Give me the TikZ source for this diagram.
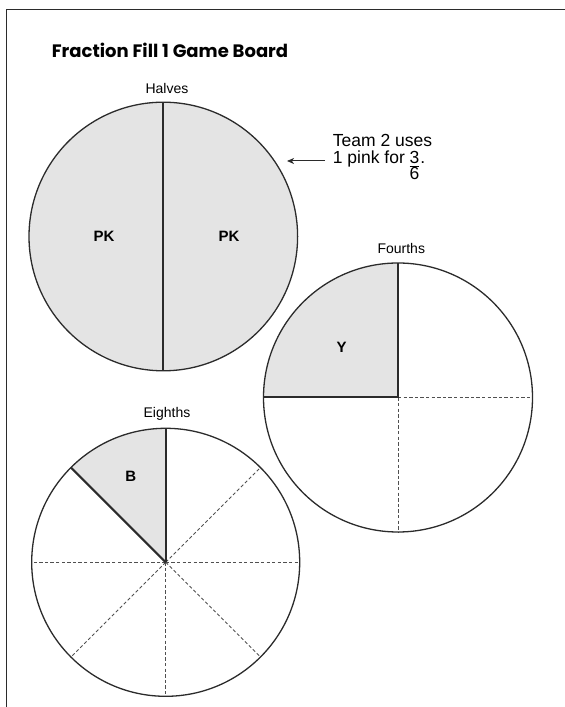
\documentclass[tikz,border=0pt]{standalone}
\usepackage{fontspec}
\setmainfont{Liberation Sans}
\newfontfamily\boardtitlefont{Poppins}[Ligatures={NoCommon}]
\usetikzlibrary{arrows.meta}
\definecolor{boardgray}{RGB}{228,228,228}
\definecolor{boardink}{RGB}{43,43,43}
\definecolor{boarddash}{RGB}{80,80,80}
\setlength{\arrayrulewidth}{0.9pt}

\begin{document}
\begin{tikzpicture}[x=1pt,y=1pt,
  every node/.style={font=\fontsize{14}{16}\selectfont,inner sep=0pt},
  boardrim/.style={boardink,line width=1.3pt},
  boardcut/.style={boardink,line width=2pt},
  boardfold/.style={boarddash,line width=0.9pt,dash pattern=on 3.3pt off 2.3pt},
  piecename/.style={font=\fontsize{15}{17}\selectfont\bfseries},
  notetext/.style={font=\fontsize{17.5}{18}\selectfont,anchor=base west},
  notearrow/.style={boardink,line width=1pt,-{Stealth[length=7pt,width=6pt,inset=2pt]}}]
\useasboundingbox (0,0) rectangle (565,707);
% page frame
\draw[boardink,line width=1.3pt] (565,697.3) -- (6.7,697.3) -- (6.7,0);
\node[anchor=base west,font=\boardtitlefont\bfseries\fontsize{18}{20}\selectfont] (title) at (51.7,649.7) {Fraction Fill 1 Game Board};
% halves
\node[anchor=base] (halveslabel) at (167,613) {Halves};
\fill[boardgray] (163.3,470.5) circle (134.3);
\draw[boardcut] (163.3,604.8) -- (163.3,336.2);
\draw[boardrim] (163.3,470.5) circle (134.3);
\node[piecename] (halvesleft) at (104,470.3) {PK};
\node[piecename] (halvesright) at (229,470.3) {PK};
% note
\node[notetext] (teamline) at (332.7,560.3) {Team 2 uses};
\node[notetext] (pinkline) at (332.7,543.7) {1 pink for \begin{tabular}[t]{@{}c@{}}3\\[-2.5pt]\hline 6\end{tabular}\kern1pt.};
\coordinate (halvestip) at (287,546);
\draw[notearrow,shorten <=7.7pt] (halvestip -| pinkline.west) -- (halvestip);
% fourths
\node[anchor=base] (fourthslabel) at (401.3,453) {Fourths};
\fill[boardgray] (398,309.5) -- (263.5,309.5) arc (180:90:134.5) -- cycle;
\draw[boardfold] (398,309.5) -- (532.5,309.5);
\draw[boardfold] (398,309.5) -- (398,175);
\draw[boardcut] (263.5,309.5) -- (398,309.5) -- (398,444);
\draw[boardrim] (398,309.5) circle (134.5);
\node[piecename] (fourthsyellow) at (341.7,359.7) {Y};
% eighths
\node[anchor=base] (eighthslabel) at (167,289.7) {Eighths};
\fill[boardgray] (165.7,144.7) -- ++(90:134) arc (90:135:134) -- cycle;
\foreach \a in {0,45,180,225,270,315}
  \draw[boardfold] (165.7,144.7) -- ++(\a:134);
\draw[boardcut] (165.7,144.7) -- ++(90:134);
\draw[boardcut] (165.7,144.7) -- ++(135:134);
\draw[boardrim] (165.7,144.7) circle (134);
\node[piecename] (eighthsblue) at (130.7,231) {B};
\end{tikzpicture}
\end{document}
